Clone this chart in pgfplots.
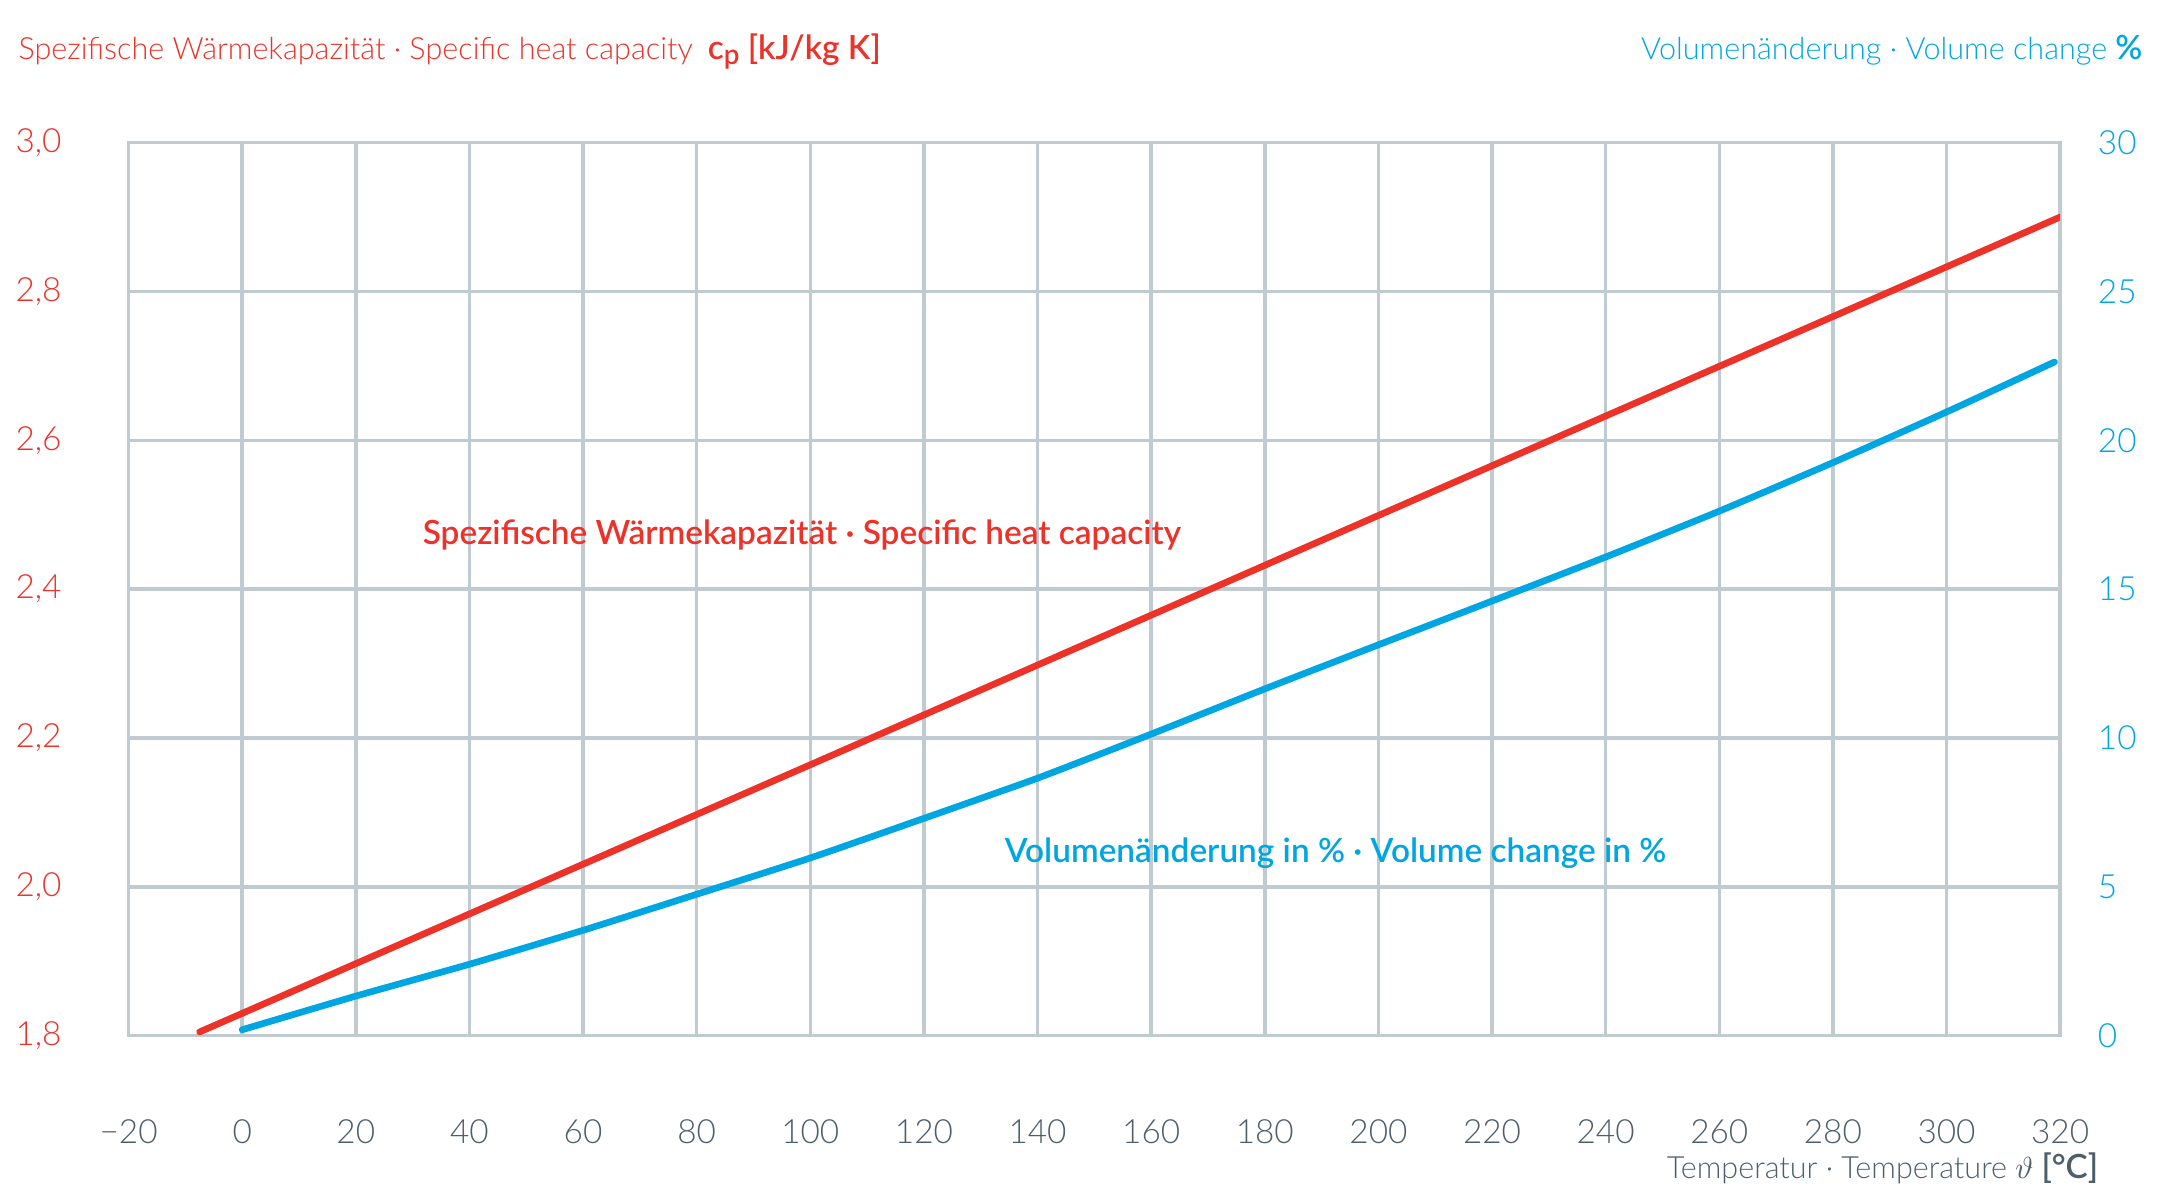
\documentclass[border=0pt]{standalone}
\usepackage{fontspec}
\setmainfont{Lato}
\IfFontExistsTF{Lato Light}{\newfontfamily\lightfont{Lato Light}}{\newfontfamily\lightfont{Lato}}
\IfFontExistsTF{Lato Semibold}{\newfontfamily\semifont{Lato Semibold}}{\newfontfamily\semifont{Lato}[UprightFont=*-Bold]}
\usepackage{pgfplots}
\pgfplotsset{compat=1.18}
\definecolor{cred}{RGB}{237,50,41}
\definecolor{cblue}{RGB}{0,166,226}
\definecolor{cgrid}{RGB}{192,202,209}
\definecolor{cgray}{RGB}{77,95,107}
\newcommand{\lfont}{\fontsize{12}{14}\selectfont}
\newcommand{\tfont}{\lightfont\fontsize{11}{13}\selectfont}
\newcommand{\sfont}{\semifont\fontsize{12}{14}\selectfont}
\begin{document}
\begin{tikzpicture}
\begin{axis}[
  scale only axis, width=694.9pt, height=321.3pt,
  xmin=-20, xmax=320, ymin=1.8, ymax=3.0,
  xtick={-20,0,20,40,60,80,100,120,140,160,180,200,220,240,260,280,300,320},
  xticklabels={−20,0,20,40,60,80,100,120,140,160,180,200,220,240,260,280,300,320},
  ytick={1.8,2,2.2,2.4,2.6,2.8,3},
  yticklabels={{1,8},{2,0},{2,2},{2,4},{2,6},{2,8},{3,0}},
  grid=major, major grid style={cgrid, line width=1.25pt},
  axis line style={cgrid, line width=1.25pt},
  tick style={draw=none},
  xticklabel style={font=\lightfont\lfont, text=cgray, anchor=center, inner sep=0pt, yshift=-34.5pt},
  yticklabel style={font=\lightfont\lfont, text=cred, anchor=east, inner sep=0pt, xshift=-23.9pt},
]
\addplot[cred, line width=2.4pt, line cap=round] coordinates {
(-7.5,1.805) (0,1.830) (100,2.164) (200,2.499) (300,2.833) (320,2.900)};
\end{axis}
\begin{axis}[
  scale only axis, width=694.9pt, height=321.3pt,
  xmin=-20, xmax=320, ymin=0, ymax=30,
  axis x line=none, axis y line*=right,
  axis line style={draw=none},
  ytick={0,5,10,15,20,25,30},
  yticklabels={0,5,10,15,20,25,30},
  tick style={draw=none},
  yticklabel style={font=\lightfont\lfont, text=cblue, anchor=west, inner sep=0pt, xshift=13.4pt},
]
\addplot[cblue, line width=2.4pt, line cap=round, smooth, tension=0.3] coordinates {
(0,0.2) (20,1.33) (40,2.40) (60,3.54) (80,4.75) (100,5.97) (120,7.30) (140,8.65)
(160,10.13) (180,11.65) (200,13.13) (220,14.60) (240,16.08) (260,17.62)
(280,19.25) (300,20.95) (319,22.63)};
\end{axis}
\node[anchor=base west, inner sep=0pt, text=cred, font=\tfont] at (-39.8pt,351.2pt)
  {Spezifische Wärmekapazität · Specific heat capacity\hspace{0.5em}{\sfont c\raisebox{-0.3ex}{\fontsize{10}{12}\selectfont p} [kJ/kg K]}};
\node[anchor=base east, inner sep=0pt, text=cblue, font=\tfont] at (724.7pt,351.2pt)
  {Volumenänderung · Volume change {\sfont\%}};
\node[inner sep=0pt, text=cred, font=\sfont] at (242.2pt,180.2pt)
  {Spezifische Wärmekapazität · Specific heat capacity};
\node[inner sep=0pt, text=cblue, font=\sfont] at (434.2pt,65.6pt)
  {Volumenänderung in \% · Volume change in \%};
\node[anchor=base east, inner sep=0pt, text=cgray, font=\tfont] at (708.8pt,-51.2pt)
  {Temperatur · Temperature $\vartheta$ {\sfont [°C]}};
\path[use as bounding box] (-46.26pt,-58.7pt) rectangle (733.7pt,372.6pt);
\end{tikzpicture}
\end{document}
